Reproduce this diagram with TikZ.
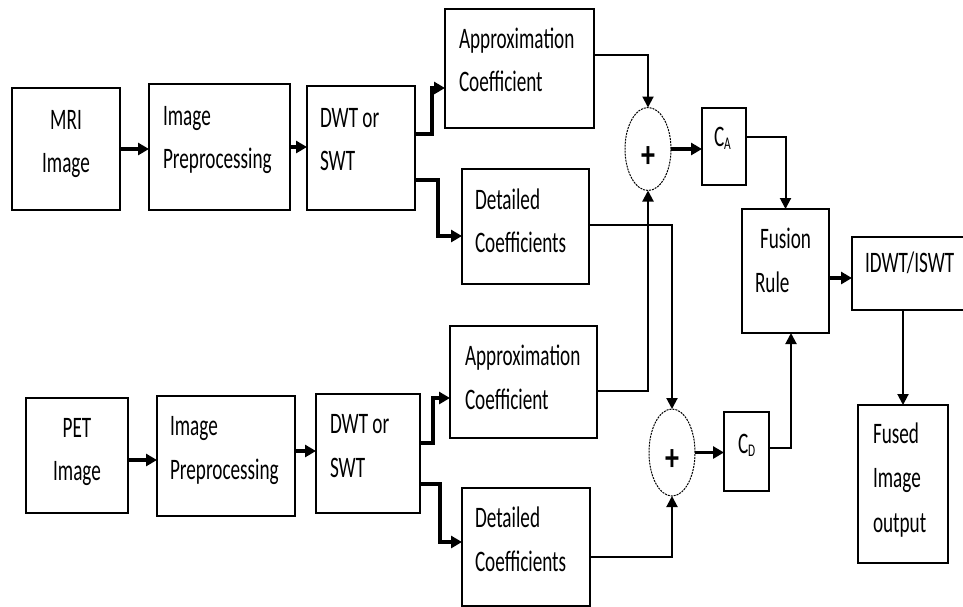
\documentclass[tikz,border=0pt]{standalone}
\usepackage{fontspec}
\setmainfont{Carlito}
\usepackage{graphicx}
\usetikzlibrary{arrows.meta,shapes.geometric}
\newcommand{\blk}[3]{\scalebox{1}[1.55]{\fontsize{19.2}{#1}\selectfont\begin{tabular}[t]{@{}#2@{}}#3\end{tabular}}}
\newcommand{\csub}[1]{\scalebox{1}[1.55]{\fontsize{19.2}{23}\selectfont C\raisebox{-2pt}{\fontsize{11.5}{12}\selectfont #1}}}
\newcommand{\plussign}{\raisebox{-18pt}[0pt][0pt]{\scalebox{1}[1.35]{\fontsize{28}{30}\selectfont\textbf{+}}}}
\begin{document}
\begin{tikzpicture}[x=1pt,y=-1pt,
  box/.style={draw,line width=1.7pt,rectangle,inner sep=0pt,outer sep=0pt},
  sumnode/.style={draw,ellipse,line width=1pt,dash pattern=on 2pt off 1pt,inner sep=0pt,outer sep=0pt},
  txt/.style={inner sep=0pt,outer sep=0pt},
  fatarrow/.style={line width=3.5pt,-{Triangle[length=11pt,width=12pt]}},
  slimarrow/.style={line width=2pt,-{Triangle[length=11pt,width=11pt]}}
]
\fill[white] (0,0) rectangle (963,606);
\useasboundingbox (0,0) rectangle (963,606);

% boxes
\node[box,minimum width=108pt,minimum height=122pt] (mri) at (66,149) {};
\node[box,minimum width=141pt,minimum height=126pt] (prep1) at (219.5,147) {};
\node[box,minimum width=108pt,minimum height=124pt] (dwt1) at (361,148) {};
\node[box,minimum width=149pt,minimum height=119pt] (app1) at (519.5,68.5) {};
\node[box,minimum width=127pt,minimum height=115pt] (det1) at (525.5,226.5) {};
\node[sumnode,minimum width=46pt,minimum height=83pt] (sum1) at (648,149) {\plussign};
\node[box,minimum width=44pt,minimum height=77pt] (ca) at (724,146.5) {};
\node[box,minimum width=87pt,minimum height=124pt] (fus) at (785.5,271) {};
\node[box,minimum width=123pt,minimum height=73pt] (idwt) at (913.5,273.5) {};
\node[box,minimum width=90pt,minimum height=158pt] (fused) at (903,484) {};
\node[box,minimum width=102pt,minimum height=115pt] (pet) at (77,455.5) {};
\node[box,minimum width=138pt,minimum height=120pt] (prep2) at (226,456) {};
\node[box,minimum width=104pt,minimum height=119pt] (dwt2) at (368,453.5) {};
\node[box,minimum width=147pt,minimum height=112pt] (app2) at (523.5,382) {};
\node[box,minimum width=128pt,minimum height=118pt] (det2) at (526,547) {};
\node[sumnode,minimum width=46pt,minimum height=87pt] (sum2) at (672,452.5) {\plussign};
\node[box,minimum width=45pt,minimum height=79pt] (cd) at (746.5,451.5) {};

% texts
\node[txt,anchor=base] (tmri) at (66,129) {\blk{27.74pt}{c}{MRI\\Image}};
\node[txt,anchor=base west] (tprep1) at (163,125) {\blk{27.74pt}{l}{Image\\Preprocessing}};
\node[txt,anchor=base west] (tdwt1) at (320,127) {\blk{27.74pt}{l}{DWT or\\SWT}};
\node[txt,anchor=base west] (tapp1) at (459,48) {\blk{27.74pt}{l}{Approximation\\Coefficient}};
\node[txt,anchor=base west] (tdet1) at (475,209) {\blk{27.74pt}{l}{Detailed\\Coefficients}};
\node[txt,anchor=base west] (tca) at (714,146) {\csub{A}};
\node[txt,anchor=base west] (tfus) at (755,248) {\blk{29pt}{l}{\hspace*{5pt}Fusion\\Rule}};
\node[txt,anchor=base west] (tidwt) at (865,272) {\blk{27.74pt}{l}{IDWT/ISWT}};
\node[txt,anchor=base west] (tfused) at (873,443) {\blk{29pt}{l}{Fused\\Image\\output}};
\node[txt,anchor=base] (tpet) at (77,437) {\blk{27.74pt}{c}{PET\\Image}};
\node[txt,anchor=base west] (tprep2) at (170,435) {\blk{29pt}{l}{Image\\Preprocessing}};
\node[txt,anchor=base west] (tdwt2) at (330,433) {\blk{28.4pt}{l}{DWT or\\SWT}};
\node[txt,anchor=base west] (tapp2) at (465,365) {\blk{28.4pt}{l}{Approximation\\Coefficient}};
\node[txt,anchor=base west] (tdet2) at (475,527) {\blk{29pt}{l}{Detailed\\Coefficients}};
\node[txt,anchor=base west] (tcd) at (738,453) {\csub{D}};

% connectors top
\draw[fatarrow] (mri.east) -- (mri.east -| prep1.west);
\draw[fatarrow] (prep1.east) -- (prep1.east -| dwt1.west);
\draw[fatarrow] ([yshift=14pt]dwt1.east) -- ++(17,0) |- ([yshift=-19.5pt]app1.west);
\draw[fatarrow] ([yshift=-32pt]dwt1.east) -- ++(23,0) |- ([yshift=-9.5pt]det1.west);
\draw[slimarrow] ([yshift=13.5pt]app1.east) -| (sum1.north);
\draw[slimarrow] ([yshift=1.5pt]det1.east) -| (sum2.north);
\draw[slimarrow] ([yshift=-9pt]app2.east) -| (sum1.south);
\draw[slimarrow] ([yshift=-10pt]det2.east) -| (sum2.south);
\draw[fatarrow] (sum1.east) -- (sum1.east -| ca.west);
\draw[slimarrow] ([yshift=9.5pt]ca.east) -| (fus.north);
\draw[fatarrow] (sum2.east) -- (sum2.east -| cd.west);
\draw[slimarrow] ([yshift=3.5pt]cd.east) -| ([xshift=5.5pt]fus.south);
\draw[fatarrow] ([yshift=-7pt]fus.east) -- ([yshift=-7pt]fus.east -| idwt.west);
\draw[slimarrow] (fused.north |- idwt.south) -- (fused.north);
% connectors bottom
\draw[fatarrow] ([yshift=-4.5pt]pet.east) -- ([yshift=-4.5pt]pet.east -| prep2.west);
\draw[fatarrow] ([yshift=5pt]prep2.east) -- ([yshift=5pt]prep2.east -| dwt2.west);
\draw[fatarrow] ([yshift=10.5pt]dwt2.east) -- ++(13,0) |- ([yshift=-16pt]app2.west);
\draw[fatarrow] ([yshift=-30.5pt]dwt2.east) -- ++(20,0) |- ([yshift=5pt]det2.west);
\end{tikzpicture}
\end{document}
